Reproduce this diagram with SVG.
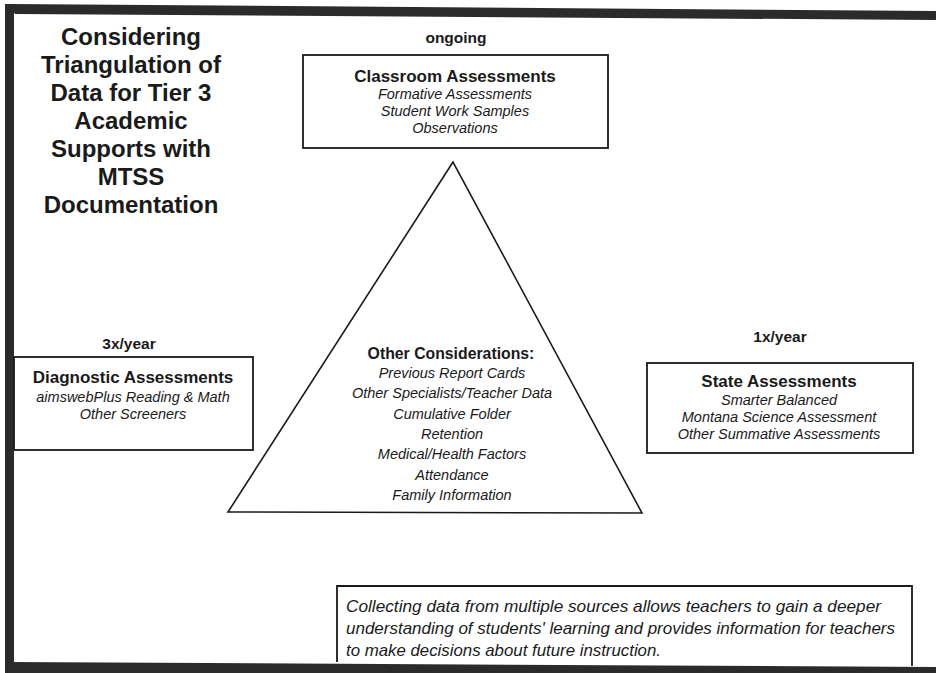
<svg xmlns="http://www.w3.org/2000/svg" width="936" height="673" viewBox="0 0 936 673">
<style>
  .frame { fill: #2b2b2b; }
  .box { fill: #ffffff; stroke: #1a1a1a; stroke-width: 1.8; }
  .title { font-family: "Liberation Sans", Arial, sans-serif; font-weight: bold; font-size: 24px; fill: #1a1a1a; text-anchor: middle; }
  .freq { font-family: "Liberation Sans", Arial, sans-serif; font-weight: bold; font-size: 15.5px; fill: #1a1a1a; text-anchor: middle; }
  .head { font-family: "Liberation Sans", Arial, sans-serif; font-weight: bold; font-size: 17px; fill: #1a1a1a; text-anchor: middle; }
  .item { font-family: "Liberation Sans", Arial, sans-serif; font-style: italic; font-size: 14.5px; fill: #1a1a1a; text-anchor: middle; }
  .note { font-family: "Liberation Sans", Arial, sans-serif; font-style: italic; font-size: 17px; fill: #1a1a1a; }
</style>
<rect x="0" y="0" width="936" height="673" fill="#ffffff"/>

<g id="frame">
  <polygon class="frame" points="8,4 936,11 936,20 15,14"/>
  <rect class="frame" x="5" y="4" width="9" height="669"/>
  <polygon class="frame" points="5,662 936,667 936,673 5,673"/>
</g>

<g id="title">
  <text class="title" x="131" y="45">Considering</text>
  <text class="title" x="131" y="73">Triangulation of</text>
  <text class="title" x="131" y="101">Data for Tier 3</text>
  <text class="title" x="131" y="129">Academic</text>
  <text class="title" x="131" y="157">Supports with</text>
  <text class="title" x="131" y="185">MTSS</text>
  <text class="title" x="131" y="213">Documentation</text>
</g>

<g id="triangle">
  <polygon points="453,162 228,512 642,513" fill="none" stroke="#1a1a1a" stroke-width="1.6"/>
  <text class="head" x="451" y="359" style="font-size:15.8px">Other Considerations:</text>
  <text class="item" x="452" y="378">Previous Report Cards</text>
  <text class="item" x="452" y="398">Other Specialists/Teacher Data</text>
  <text class="item" x="452" y="419">Cumulative Folder</text>
  <text class="item" x="452" y="439">Retention</text>
  <text class="item" x="452" y="459">Medical/Health Factors</text>
  <text class="item" x="452" y="480">Attendance</text>
  <text class="item" x="452" y="500">Family Information</text>
</g>

<g id="classroom">
  <text class="freq" x="456" y="43">ongoing</text>
  <rect class="box" x="303" y="55" width="305" height="93"/>
  <text class="head" x="455" y="82">Classroom Assessments</text>
  <text class="item" x="455" y="99">Formative Assessments</text>
  <text class="item" x="455" y="116">Student Work Samples</text>
  <text class="item" x="455" y="133">Observations</text>
</g>

<g id="diagnostic">
  <text class="freq" x="129" y="349">3x/year</text>
  <rect class="box" x="14" y="357" width="239" height="93"/>
  <text class="head" x="133" y="383">Diagnostic Assessments</text>
  <text class="item" x="133" y="402">aimswebPlus Reading &amp; Math</text>
  <text class="item" x="133" y="419">Other Screeners</text>
</g>

<g id="state">
  <text class="freq" x="780" y="342">1x/year</text>
  <rect class="box" x="647" y="363" width="266" height="90"/>
  <text class="head" x="779" y="387">State Assessments</text>
  <text class="item" x="779" y="405">Smarter Balanced</text>
  <text class="item" x="779" y="422">Montana Science Assessment</text>
  <text class="item" x="779" y="439">Other Summative Assessments</text>
</g>

<g id="note">
  <path d="M337,662 L337,586 L912,586 L912,666" fill="#ffffff" stroke="#1a1a1a" stroke-width="1.8"/>
  <text class="note" x="346" y="612" textLength="535" lengthAdjust="spacingAndGlyphs">Collecting data from multiple sources allows teachers to gain a deeper</text>
  <text class="note" x="346" y="634" textLength="549" lengthAdjust="spacingAndGlyphs">understanding of students' learning and provides information for teachers</text>
  <text class="note" x="346" y="656" textLength="315" lengthAdjust="spacingAndGlyphs">to make decisions about future instruction.</text>
</g>

<g id="connectors"></g>
</svg>
